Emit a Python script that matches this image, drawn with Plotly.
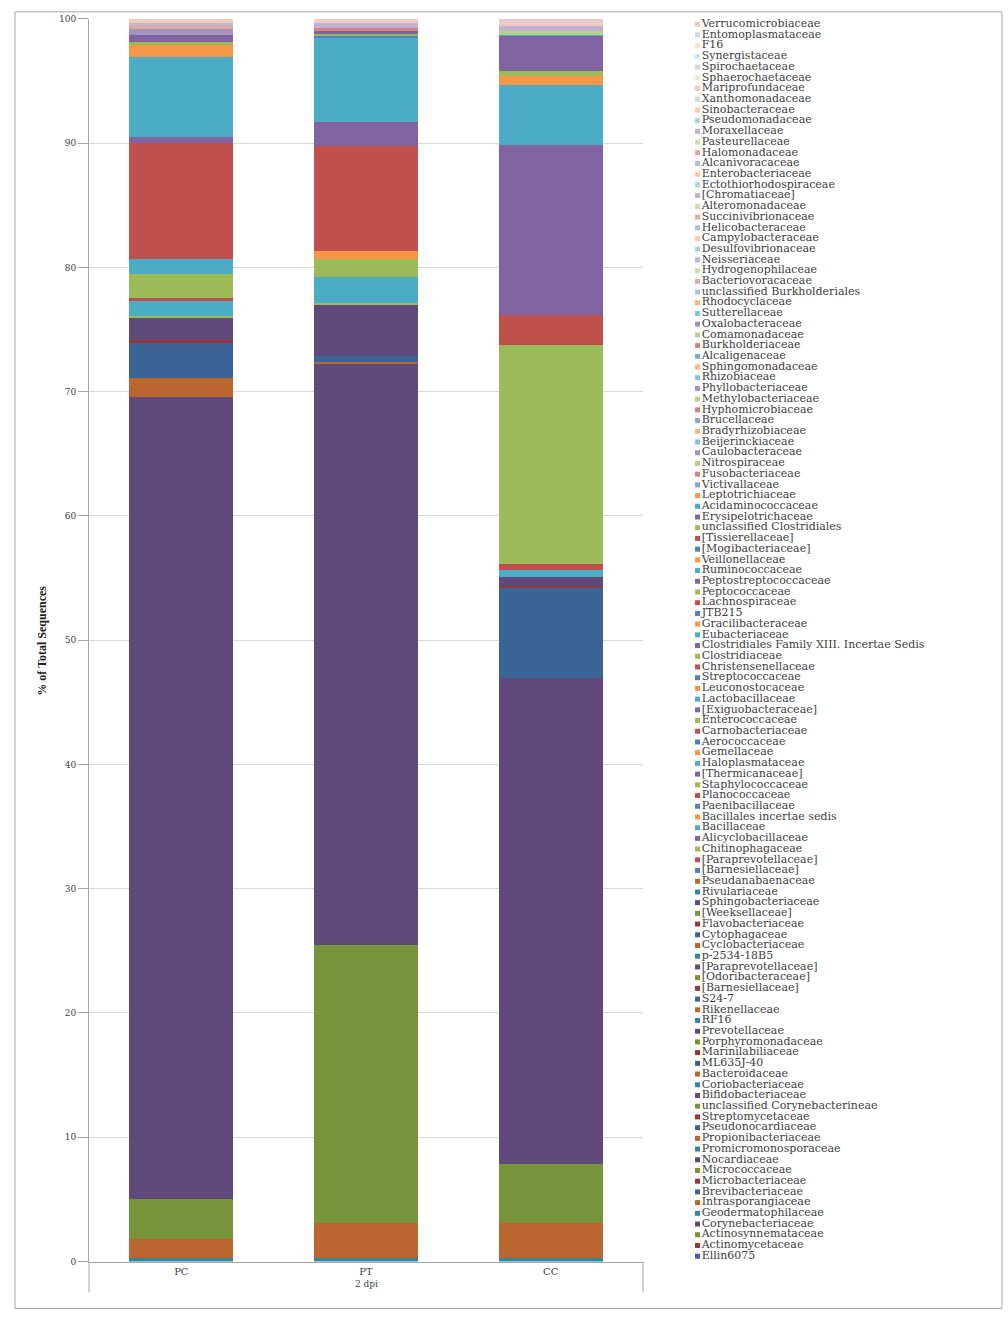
import plotly.graph_objects as go

W, H = 1008, 1332

# Families, bottom of stack (series 1) to top (series 116)
families = [
    "Ellin6075", "Actinomycetaceae", "Actinosynnemataceae", "Corynebacteriaceae",
    "Geodermatophilaceae", "Intrasporangiaceae", "Brevibacteriaceae", "Microbacteriaceae",
    "Micrococcaceae", "Nocardiaceae", "Promicromonosporaceae", "Propionibacteriaceae",
    "Pseudonocardiaceae", "Streptomycetaceae", "unclassified Corynebacterineae",
    "Bifidobacteriaceae", "Coriobacteriaceae", "Bacteroidaceae", "ML635J-40",
    "Marinilabiliaceae", "Porphyromonadaceae", "Prevotellaceae", "RF16", "Rikenellaceae",
    "S24-7", "[Barnesiellaceae]", "[Odoribacteraceae]", "[Paraprevotellaceae]",
    "p-2534-18B5", "Cyclobacteriaceae", "Cytophagaceae", "Flavobacteriaceae",
    "[Weeksellaceae]", "Sphingobacteriaceae", "Rivulariaceae", "Pseudanabaenaceae",
    "[Barnesiellaceae]", "[Paraprevotellaceae]", "Chitinophagaceae", "Alicyclobacillaceae",
    "Bacillaceae", "Bacillales incertae sedis", "Paenibacillaceae", "Planococcaceae",
    "Staphylococcaceae", "[Thermicanaceae]", "Haloplasmataceae", "Gemellaceae",
    "Aerococcaceae", "Carnobacteriaceae", "Enterococcaceae", "[Exiguobacteraceae]",
    "Lactobacillaceae", "Leuconostocaceae", "Streptococcaceae", "Christensenellaceae",
    "Clostridiaceae", "Clostridiales Family XIII. Incertae Sedis", "Eubacteriaceae",
    "Gracilibacteraceae", "JTB215", "Lachnospiraceae", "Peptococcaceae",
    "Peptostreptococcaceae", "Ruminococcaceae", "Veillonellaceae", "[Mogibacteriaceae]",
    "[Tissierellaceae]", "unclassified Clostridiales", "Erysipelotrichaceae",
    "Acidaminococcaceae", "Leptotrichiaceae", "Victivallaceae", "Fusobacteriaceae",
    "Nitrospiraceae", "Caulobacteraceae", "Beijerinckiaceae", "Bradyrhizobiaceae",
    "Brucellaceae", "Hyphomicrobiaceae", "Methylobacteriaceae", "Phyllobacteriaceae",
    "Rhizobiaceae", "Sphingomonadaceae", "Alcaligenaceae", "Burkholderiaceae",
    "Comamonadaceae", "Oxalobacteraceae", "Sutterellaceae", "Rhodocyclaceae",
    "unclassified Burkholderiales", "Bacteriovoracaceae", "Hydrogenophilaceae",
    "Neisseriaceae", "Desulfovibrionaceae", "Campylobacteraceae", "Helicobacteraceae",
    "Succinivibrionaceae", "Alteromonadaceae", "[Chromatiaceae]", "Ectothiorhodospiraceae",
    "Enterobacteriaceae", "Alcanivoracaceae", "Halomonadaceae", "Pasteurellaceae",
    "Moraxellaceae", "Pseudomonadaceae", "Sinobacteraceae", "Xanthomonadaceae",
    "Mariprofundaceae", "Sphaerochaetaceae", "Spirochaetaceae", "Synergistaceae", "F16",
    "Entomoplasmataceae", "Verrucomicrobiaceae",
]

categories = ["PC", "PT", "CC"]
group_label = "2 dpi"
y_ticks = list(range(0, 101, 10))

# % of total sequences, one value per family (same order as families), 6 per row
pc_values = [
    0, 0, 0, 0, 0, 0,
    0, 0, 0, 0, 0, 0,
    0, 0, 0, 0, 0.30, 1.53,
    0, 0, 3.21, 64.56, 0, 1.48,
    2.80, 0.27, 0, 1.82, 0, 0,
    0, 0, 0, 0, 0, 0,
    0, 0, 0, 0, 0, 0,
    0, 0, 0, 0, 0, 0,
    0, 0, 0.08, 0, 1.26, 0,
    0, 0.19, 1.98, 0, 1.19, 0,
    0, 9.38, 0, 0.45, 6.43, 1.02,
    0, 0, 0.15, 0.60, 0, 0,
    0, 0, 0, 0.50, 0, 0,
    0, 0, 0, 0, 0, 0,
    0, 0, 0, 0, 0, 0,
    0, 0.35, 0, 0, 0, 0,
    0.15, 0, 0, 0, 0, 0.10,
    0, 0, 0, 0, 0, 0,
    0, 0, 0, 0, 0, 0,
    0, 0.20,
]
pt_values = [
    0, 0, 0, 0, 0, 0,
    0, 0, 0, 0, 0, 0,
    0, 0, 0, 0, 0.30, 2.78,
    0, 0, 22.42, 46.77, 0, 0.08,
    0.55, 0, 0, 4.15, 0, 0,
    0, 0, 0, 0, 0, 0,
    0, 0, 0, 0, 0, 0,
    0, 0, 0, 0, 0, 0,
    0, 0, 0.10, 0, 2.04, 0,
    0, 0, 1.48, 0, 0, 0.61,
    0, 8.50, 0, 1.96, 6.76, 0,
    0.13, 0, 0.19, 0.20, 0, 0,
    0, 0.22, 0, 0, 0, 0,
    0, 0, 0, 0, 0, 0,
    0, 0, 0, 0, 0, 0,
    0, 0, 0, 0.42, 0, 0,
    0, 0, 0, 0, 0, 0,
    0, 0, 0, 0, 0, 0,
    0, 0, 0, 0, 0, 0,
    0, 0.34,
]
cc_values = [
    0, 0, 0, 0, 0, 0,
    0, 0, 0, 0, 0, 0,
    0, 0, 0, 0, 0.30, 2.78,
    0, 0, 4.78, 39.07, 0, 0,
    7.27, 0.19, 0, 0.66, 0, 0,
    0, 0, 0, 0, 0, 0,
    0, 0, 0, 0, 0, 0,
    0, 0, 0, 0, 0, 0,
    0, 0, 0, 0, 0.60, 0,
    0, 0.50, 17.60, 0, 0, 0,
    0, 2.44, 0, 13.65, 4.80, 0.80,
    0, 0, 0.40, 2.80, 0.10, 0,
    0, 0, 0, 0, 0, 0,
    0, 0, 0.30, 0, 0, 0,
    0, 0, 0, 0, 0, 0,
    0, 0, 0, 0.10, 0, 0,
    0, 0, 0, 0.32, 0, 0,
    0, 0, 0, 0, 0, 0,
    0, 0.30, 0, 0, 0, 0,
    0, 0.24,
]

# ---- colours: Office palette cycling with shade variants ----
BASE = ["#4F81BD", "#C0504D", "#9BBB59", "#8064A2", "#4BACC6", "#F79646"]
DARK = ["#3B6496", "#953735", "#77933C", "#604A7B", "#31859C", "#B9672F"]


def _mix(hexc, t):
    r, g, b = int(hexc[1:3], 16), int(hexc[3:5], 16), int(hexc[5:7], 16)
    r = round(r + (255 - r) * t)
    g = round(g + (255 - g) * t)
    b = round(b + (255 - b) * t)
    return f"#{r:02X}{g:02X}{b:02X}"


def series_color(i):
    hue, grp = i % 6, i // 6
    if grp <= 5:
        return DARK[hue]
    if grp <= 11:
        return BASE[hue]
    if grp <= 14:
        return _mix(BASE[hue], 0.3)
    if grp <= 17:
        return _mix(BASE[hue], 0.5)
    return _mix(BASE[hue], 0.7)


colors = [series_color(i) for i in range(len(families))]

fig = go.Figure()

for i, name in enumerate(families):
    fig.add_trace(go.Bar(
        x=categories,
        y=[pc_values[i], pt_values[i], cc_values[i]],
        name=name,
        marker=dict(color=colors[i], line=dict(width=0)),
        showlegend=False,
        hoverinfo="skip",
    ))

# legend drawn as a scatter on its own axes (top item = last series)
n = len(families)
leg_y = [n - 1 - i for i in range(n)]
fig.add_trace(go.Scatter(
    x=[0.0] * n,
    y=leg_y,
    mode="markers+text",
    text=families,
    textposition="middle right",
    textfont=dict(family="DejaVu Serif", size=11, color="#404040"),
    marker=dict(symbol="square", size=5, color=colors, line=dict(width=0)),
    xaxis="x2", yaxis="y2",
    showlegend=False, hoverinfo="skip", cliponaxis=False,
))

# plot-area geometry in screen pixels
L, R, T, B = 89, 643, 18, 1261


def px(x):
    return x / W


def py(y):
    # small vertical correction measured from the rendered page
    yy = (y - 4.13) / 0.99276
    return 1 - yy / H


fig.update_layout(
    width=W, height=H,
    margin=dict(l=0, r=0, t=0, b=0),
    paper_bgcolor="white", plot_bgcolor="white",
    barmode="stack", bargap=0.437,
    showlegend=False,
    font=dict(family="Liberation Serif", color="#404040"),
    xaxis=dict(
        domain=[px(L), px(R)],
        showline=True, linecolor="#A6A6A6", linewidth=1,
        ticks="", showgrid=False,
        tickfont=dict(family="DejaVu Serif", size=10, color="#404040"),
        anchor="y",
    ),
    yaxis=dict(
        domain=[py(B), py(T)],
        range=[0, 100], tickvals=y_ticks,
        showline=True, linecolor="#A6A6A6", linewidth=1,
        ticks="outside", ticklen=10, tickcolor="#A6A6A6",
        showgrid=True, gridcolor="#D9D9D9", gridwidth=1,
        zeroline=False,
        tickfont=dict(family="DejaVu Serif", size=9, color="#404040"),
        anchor="x",
    ),
    xaxis2=dict(domain=[px(693), px(1000)], range=[-0.015, 1], visible=False,
                anchor="y2", fixedrange=True),
    yaxis2=dict(domain=[py(B), py(T)], range=[n - 0.5, -0.5], visible=False,
                anchor="x2", fixedrange=True),
    shapes=[
        dict(type="rect", xref="paper", yref="paper",
             x0=px(15), x1=px(1002), y0=py(1308), y1=py(11),
             line=dict(color="#A6A6A6", width=1)),
        dict(type="line", xref="paper", yref="paper",
             x0=px(L), x1=px(L), y0=py(B), y1=py(1292),
             line=dict(color="#A6A6A6", width=1)),
        dict(type="line", xref="paper", yref="paper",
             x0=px(R), x1=px(R), y0=py(B), y1=py(1292),
             line=dict(color="#A6A6A6", width=1)),
    ],
    annotations=[
        dict(text="<b>% of Total Sequences</b>", xref="paper", yref="paper",
             x=px(42), y=py(640), textangle=-90, showarrow=False,
             font=dict(family="Liberation Serif", size=12, color="#202020"),
             xanchor="center", yanchor="middle"),
        dict(text=group_label, xref="paper", yref="paper",
             x=px((L + R) / 2), y=py(1283), showarrow=False,
             font=dict(family="DejaVu Serif", size=9, color="#404040"),
             xanchor="center", yanchor="middle"),
    ],
)

fig.write_html(
    "out.html",
    config={"displayModeBar": False},
    post_script="document.body.style.margin='0';document.body.style.overflow='hidden';",
)
